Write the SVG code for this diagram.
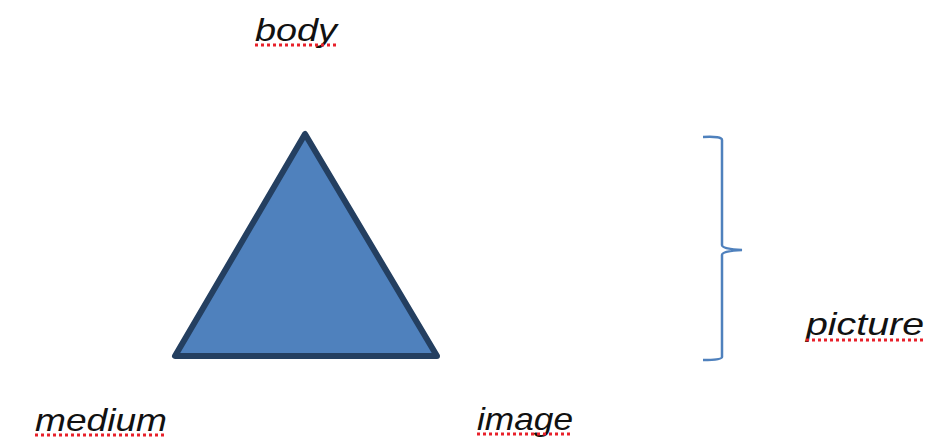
<svg xmlns="http://www.w3.org/2000/svg" width="931" height="440" viewBox="0 0 931 440">
<style>
.lbl{font-family:"Liberation Sans",Arial,sans-serif;font-style:italic;font-size:32px;fill:#111;}
.sq{stroke:#e8202a;stroke-width:3;stroke-dasharray:3 3;fill:none;}
</style>
<rect width="931" height="440" fill="#fff"/>
<g id="triangle">
<polygon points="305,134 175,356 437,356" fill="#4F81BD" stroke="#243F60" stroke-width="6" stroke-linejoin="round"/>
</g>
<g id="connectors">
<path d="M703,137 Q722,136 722,140 L722,245 Q722,249 742,250 Q722,251 722,255 L722,357 Q722,360 703,360" fill="none" stroke="#4F81BD" stroke-width="2.5"/>
</g>
<g id="body">
<text class="lbl" x="255" y="41" textLength="82" lengthAdjust="spacingAndGlyphs">body</text>
<line class="sq" x1="255" y1="45" x2="337" y2="45"/>
</g>
<g id="picture">
<text class="lbl" x="806" y="335" textLength="118" lengthAdjust="spacingAndGlyphs">picture</text>
<line class="sq" x1="806" y1="340" x2="924" y2="340"/>
</g>
<g id="medium">
<text class="lbl" x="35" y="431" textLength="132" lengthAdjust="spacingAndGlyphs">medium</text>
<line class="sq" x1="35" y1="435" x2="167" y2="435"/>
</g>
<g id="image">
<text class="lbl" x="477" y="430" textLength="96" lengthAdjust="spacingAndGlyphs">image</text>
<line class="sq" x1="477" y1="434" x2="572" y2="434"/>
</g>
</svg>
